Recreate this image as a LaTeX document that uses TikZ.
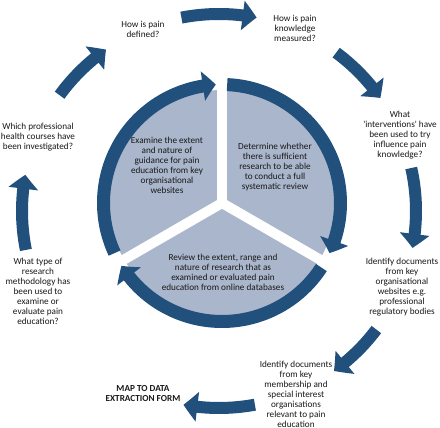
\documentclass[tikz,border=0pt]{standalone}
\usepackage{fontspec}
\setmainfont{Carlito}
\usetikzlibrary{arrows.meta,bending}
\definecolor{ringblue}{RGB}{33,80,125}
\definecolor{pieblue}{RGB}{170,182,203}
\definecolor{txt}{RGB}{25,25,25}
\begin{document}
\begin{tikzpicture}[x=1pt,y=1pt,
  lbl/.style={font=\fontsize{9.2}{10}\selectfont, align=center, text=txt, inner sep=0pt},
  ringarc/.style={draw=ringblue, line width=13pt, -{Triangle[length=13pt,width=29pt,bend]}},
  outarc/.style={draw=ringblue, line width=12pt, -{Triangle[length=14pt,width=29pt,bend]}},
  gapline/.style={draw=white, line width=10pt}]
\useasboundingbox[fill=white] (0,0) rectangle (440,428);
\coordinate (ci) at (222,225);
\coordinate (co) at (219,217);
% pie
\fill[pieblue] (ci) circle[radius=113];
\foreach \a in {90,210,330} \draw[gapline] (ci) -- ++(\a:116);
% inner ring arcs
\draw[ringarc] ([shift={(205:118.5)}]ci) arc[start angle=205,end angle=93,radius=118.5];
\draw[ringarc] ([shift={(87.5:118.5)}]ci) arc[start angle=87.5,end angle=-25,radius=118.5];
\draw[ringarc] ([shift={(-33:118.5)}]ci) arc[start angle=-33,end angle=-148,radius=118.5];
% outer arrows
\draw[outarc] ([shift={(144:197)}]co) arc[start angle=144,end angle=125,radius=197];
\draw[outarc] ([shift={(101:197)}]co) arc[start angle=101,end angle=79,radius=197];
\draw[outarc] ([shift={(53.5:197)}]co) arc[start angle=53.5,end angle=35,radius=197];
\draw[outarc] ([shift={(12.6:197)}]co) arc[start angle=12.6,end angle=-10.8,radius=197];
\draw[outarc] ([shift={(-37:197)}]co) arc[start angle=-37,end angle=-54.3,radius=197];
\draw[outarc] ([shift={(-79.5:197)}]co) arc[start angle=-79.5,end angle=-100.4,radius=197];
\draw[outarc] ([shift={(191.4:197)}]co) arc[start angle=191.4,end angle=169.4,radius=197];
% inner texts
\node[lbl] (c1) at (167,263) {Examine the extent\\and nature of\\guidance for pain\\education from key\\organisational\\websites};
\node[lbl] (c2) at (275,261) {Determine whether\\there is sufficient\\research to be able\\to conduct a full\\systematic review};
\node[lbl] (c3) at (223,156) {Review the extent, range and\\nature of research that as\\examined or evaluated pain\\education from online databases};
% outer texts
\node[lbl] (t1) at (143,399) {How is pain\\defined?};
\node[lbl] (t2) at (295,400) {How is pain\\knowledge\\measured?};
\node[lbl] (t3) at (400,293) {What\\\textquotesingle interventions\textquotesingle{} have\\been used to try\\influence pain\\knowledge?};
\node[lbl] (t4) at (402,141) {Identify documents\\from key\\organisational\\websites e.g.\\professional\\regulatory bodies};
\node[lbl] (t5) at (296,34) {Identify documents\\from key\\membership and\\special interest\\organisations\\relevant to pain\\education};
\node[lbl, font=\fontsize{9.2}{10}\selectfont\bfseries] (t6) at (143,34) {MAP TO DATA\\EXTRACTION FORM};
\node[lbl] (t7) at (38,137) {What type of\\research\\methodology has\\been used to\\examine or\\evaluate pain\\education?};
\node[lbl] (t8) at (38,291) {Which professional\\health courses have\\been investigated?};
\end{tikzpicture}
\end{document}
